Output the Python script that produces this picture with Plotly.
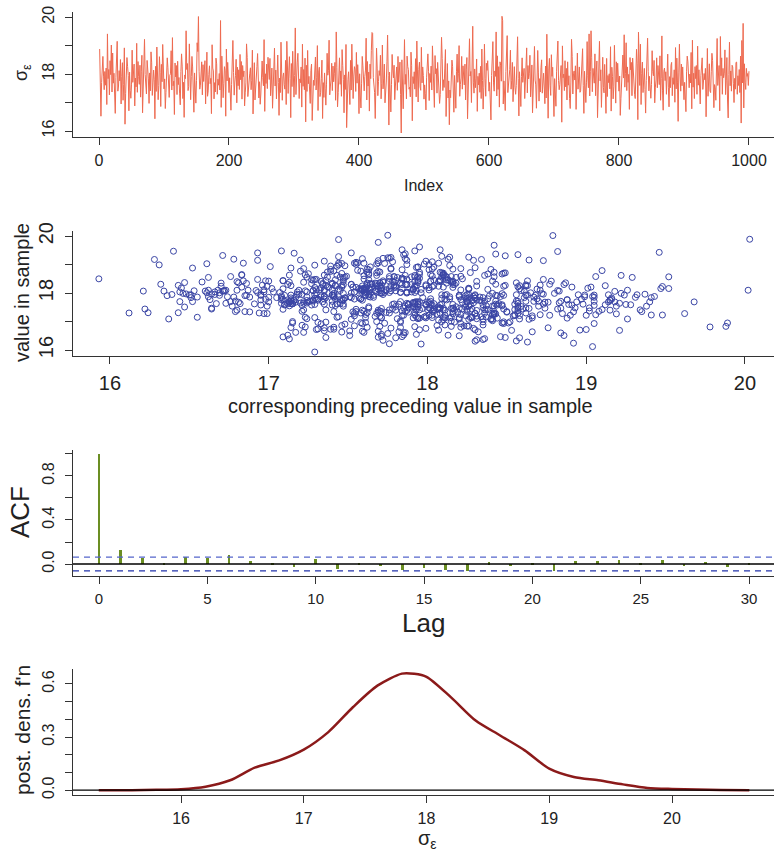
import plotly.graph_objects as go

# ---------------- data ----------------
sigma_trace = [
18.88,17.12,16.52,17.70,18.36,18.62,17.93,17.45,18.09,17.61,18.21,16.93,19.41,17.84,18.16,17.27,18.47,17.98,19.02,17.37,
18.74,17.68,18.03,17.22,16.62,17.87,18.29,19.15,17.40,17.58,18.12,17.76,18.51,16.95,17.92,18.40,17.08,17.64,18.92,16.24,
17.31,17.79,18.58,18.26,17.95,16.71,18.07,17.43,17.15,17.62,18.84,17.71,18.18,18.35,16.88,17.86,17.55,19.08,17.36,18.44,
17.91,17.64,18.31,17.19,18.10,18.66,16.64,17.47,17.76,19.22,17.99,17.58,17.30,18.48,18.24,17.83,16.97,18.04,17.41,18.78,
18.42,17.25,17.69,18.14,17.80,16.43,18.27,17.39,18.95,17.94,17.10,17.60,18.61,18.06,16.86,18.34,17.73,19.04,17.88,17.48,
17.83,16.79,17.35,18.12,18.57,18.22,17.67,17.18,17.96,18.01,18.82,17.44,19.28,17.59,17.75,16.58,18.39,17.90,18.30,17.28,
18.45,17.63,17.88,17.33,16.92,18.09,18.71,18.28,17.14,17.71,16.48,17.97,17.84,19.52,18.16,18.37,17.42,17.56,19.06,17.24,
17.10,17.92,18.62,18.25,17.69,16.66,18.04,17.36,16.98,17.78,19.10,18.79,20.02,18.10,17.47,17.61,18.14,18.43,17.27,18.33,
17.74,18.08,18.47,16.95,17.58,18.77,17.22,17.41,17.99,18.29,17.66,17.85,16.61,19.03,18.21,18.11,17.13,17.70,17.37,18.56,
18.36,17.29,17.82,17.61,18.02,17.44,19.88,16.83,18.63,17.93,17.17,17.68,18.26,18.13,16.52,18.88,17.76,18.41,17.55,17.35,
17.87,17.39,16.73,17.64,18.34,19.18,18.06,17.26,17.72,17.95,18.52,16.99,18.24,17.59,18.15,17.46,18.69,17.80,18.44,17.12,
18.30,17.91,18.11,16.88,17.34,17.69,19.06,18.58,17.21,17.57,17.83,18.03,18.22,17.45,17.77,18.84,16.60,18.07,18.40,17.09,
17.43,17.62,18.27,18.72,17.98,17.16,17.73,16.94,17.30,18.12,18.46,17.88,17.59,19.21,16.69,18.01,17.67,18.35,17.49,18.59,
18.09,17.81,18.55,17.24,17.65,18.21,16.80,17.40,17.94,18.91,17.58,18.14,17.13,18.38,18.67,17.71,16.55,17.86,17.35,19.12,
18.26,17.08,17.90,18.04,17.63,17.47,18.48,16.93,19.15,17.74,17.32,18.11,18.61,17.84,16.47,18.37,17.56,18.80,17.99,17.19,
17.95,19.62,17.28,18.08,18.42,18.73,17.61,17.14,17.83,17.70,18.25,16.84,19.05,17.57,18.16,17.45,18.56,16.32,18.31,17.39,
18.83,17.66,17.92,17.31,16.97,18.12,18.35,16.37,17.09,17.78,17.60,18.03,18.60,17.44,17.87,19.00,16.72,18.07,18.24,17.21,
17.36,17.84,18.49,16.44,17.70,17.18,18.04,17.48,16.91,17.62,18.73,17.96,18.13,19.19,17.27,17.58,17.79,18.38,17.42,18.28,
17.73,18.02,18.41,17.08,19.48,18.23,16.85,17.35,17.90,18.57,17.64,18.11,17.22,18.86,18.30,17.82,16.64,17.97,17.46,19.04,
16.12,17.30,17.80,18.08,17.59,16.93,18.48,17.44,19.05,17.71,17.14,17.93,18.26,18.17,17.39,18.76,17.68,18.33,17.86,16.61,
18.01,17.23,16.81,17.68,18.62,18.29,17.76,17.41,17.91,18.14,19.26,17.09,18.44,17.58,18.07,16.70,18.35,17.84,18.82,19.46,
19.43,17.88,17.60,17.36,16.44,18.04,18.91,18.21,17.24,17.74,18.12,17.95,18.66,17.13,17.68,19.02,17.48,17.83,18.35,16.99,
17.28,17.72,18.43,19.37,17.96,16.21,18.07,17.51,16.67,17.63,18.69,18.14,17.87,18.31,17.10,17.58,17.80,18.25,17.43,18.62,
17.71,18.08,18.42,17.29,15.93,18.50,17.35,16.78,17.86,19.21,17.64,17.99,17.13,18.63,18.26,18.16,17.47,17.54,17.20,18.77,
18.31,16.36,17.91,17.67,18.08,17.47,18.54,17.20,19.16,17.83,17.02,18.16,18.42,17.55,17.43,18.94,17.69,18.25,17.95,17.12,
17.62,17.31,16.74,17.87,18.49,18.71,18.10,17.07,18.02,17.71,18.28,17.44,18.99,17.93,17.70,16.83,18.65,18.01,18.19,17.33,
18.41,17.99,17.61,16.97,17.28,18.09,19.29,18.55,17.42,17.80,17.53,18.21,18.86,16.51,17.94,18.37,17.16,17.76,16.22,17.44,
17.17,17.85,18.49,18.27,17.59,16.66,17.95,17.41,16.80,18.10,18.70,17.71,18.01,19.00,17.22,17.64,17.86,18.62,17.47,18.29,
17.88,17.62,18.35,17.09,18.15,18.58,16.43,17.31,17.75,19.24,17.93,18.09,17.00,18.42,19.68,17.69,17.33,18.18,17.52,17.84,
18.53,16.69,17.92,17.62,18.03,17.36,18.27,17.14,18.88,17.77,16.77,17.54,19.05,17.85,17.22,18.38,18.13,18.47,17.59,17.40,
17.71,17.13,16.39,17.95,18.73,19.14,17.69,17.40,18.11,17.92,19.48,17.23,18.64,17.46,18.26,16.84,18.43,18.31,17.75,20.03,
19.89,16.95,17.76,17.30,16.72,18.09,18.57,19.35,17.35,17.61,17.91,18.16,18.84,17.47,17.78,18.41,17.03,18.04,18.26,17.54,
17.29,17.60,18.49,19.31,17.85,16.53,18.08,17.46,16.86,17.92,18.57,17.71,18.16,18.20,17.14,17.63,17.94,18.92,17.34,18.30,
17.83,18.02,18.66,17.20,17.65,18.32,16.64,17.44,18.14,18.97,17.79,17.62,16.80,18.40,18.83,18.07,17.05,17.84,17.37,18.22,
18.50,17.33,17.87,18.03,17.58,16.96,18.28,17.16,19.40,17.69,16.45,18.18,18.55,17.61,17.25,18.68,17.92,18.24,17.51,16.51,
17.84,17.21,16.87,18.10,18.64,19.16,17.78,17.45,17.63,18.17,18.30,16.31,18.99,17.87,18.00,17.42,18.47,17.55,18.20,17.09,
18.43,17.61,17.94,17.14,16.79,17.72,19.22,18.62,17.30,18.01,18.11,17.79,18.29,16.76,17.70,18.74,17.47,17.99,18.25,17.36,
17.41,17.86,18.30,18.89,17.60,16.62,18.10,17.15,17.00,17.69,19.14,17.94,17.52,19.41,17.23,18.08,19.52,18.57,17.38,18.20,
17.92,17.68,18.71,17.24,18.04,18.46,16.47,17.51,17.87,19.15,17.76,18.15,16.83,18.21,18.59,17.53,17.34,18.34,17.17,16.62,
18.55,17.21,17.95,17.70,18.01,17.48,18.96,16.70,18.24,17.91,17.13,17.55,19.01,18.17,16.98,18.43,17.72,18.38,17.80,17.40,
17.93,16.55,17.15,17.63,18.47,18.67,17.86,19.38,17.54,18.03,19.10,17.42,18.25,17.71,17.99,16.76,18.58,18.15,18.41,17.24,
18.56,17.94,17.68,17.29,17.14,17.77,18.87,18.36,16.40,19.47,18.16,17.60,19.05,16.93,18.02,18.42,17.35,17.79,18.20,17.46,
16.63,17.77,18.26,19.26,18.10,17.41,17.92,17.23,17.15,17.63,18.82,18.09,17.94,18.48,16.99,17.54,17.79,18.57,17.52,18.30,
17.94,17.63,18.64,17.08,17.85,19.34,17.41,16.73,18.10,18.21,17.77,18.08,17.29,18.48,18.70,17.54,16.85,17.91,17.52,18.31,
18.41,17.24,17.87,17.64,18.15,17.01,18.93,17.48,18.56,17.72,16.34,18.07,19.05,17.93,17.40,18.35,17.59,18.25,17.81,17.10,
17.71,17.35,16.68,18.10,18.63,18.43,17.92,17.52,18.00,17.69,18.76,16.78,19.19,17.54,18.03,17.14,18.26,17.84,18.30,17.29,
18.98,17.61,18.15,17.15,16.95,17.94,18.42,18.57,17.46,17.76,18.02,17.80,18.20,16.50,17.93,18.90,17.22,17.70,18.36,17.41,
17.35,18.08,18.73,18.48,17.92,16.82,17.63,17.52,17.08,17.77,19.25,17.60,18.16,18.30,16.71,19.32,17.94,18.57,17.29,18.20,
17.87,18.03,18.85,17.28,17.76,18.58,17.09,16.46,17.99,19.12,17.59,18.11,17.40,18.31,18.25,17.68,17.00,17.85,17.47,18.41,
18.42,17.29,17.94,17.60,18.16,17.35,18.63,16.28,19.18,17.69,19.78,16.81,18.36,17.71,17.46,18.20,17.92,18.02,17.60,18.10,
]
index = list(range(1, len(sigma_trace) + 1))

# lag plot: preceding value vs value
prev_vals = sigma_trace[:-1]
next_vals = sigma_trace[1:]

acf_lags = list(range(0, 31))
acf_vals = [1.0, 0.127, 0.057, 0.005, 0.060, 0.058, 0.080, 0.030, 0.010, -0.030,
            0.050, -0.048, 0.010, -0.015, -0.050, -0.035, -0.050, -0.066, 0.015, -0.020,
            0.005, -0.065, 0.027, 0.030, 0.035, 0.008, 0.035, -0.015, 0.020, -0.030, 0.010]
n_samples = 1000
conf_bound = 2 / n_samples ** 0.5

dens_x = [15.33, 15.6, 15.8, 16.0, 16.2, 16.4, 16.6, 16.8, 17.0, 17.2, 17.4, 17.6, 17.8, 17.9,
          18.0, 18.2, 18.4, 18.6, 18.8, 19.0, 19.2, 19.4, 19.6, 19.8, 20.0, 20.2, 20.4, 20.63]
dens_y = [0.0, 0.0005, 0.002, 0.006, 0.02, 0.056, 0.127, 0.168, 0.229, 0.328, 0.468, 0.59, 0.658, 0.657,
          0.64, 0.524, 0.393, 0.309, 0.225, 0.122, 0.075, 0.056, 0.033, 0.013, 0.007, 0.004, 0.001, 0.0]

# tick positions
trace_xticks = [0, 200, 400, 600, 800, 1000]
sigma_ticks = [16, 18, 20]
sigma_minor = [17, 19]
val_ticks = [16, 17, 18, 19, 20]
lag_ticks = [0, 5, 10, 15, 20, 25, 30]
acf_ticks = [0.0, 0.4, 0.8]
acf_minor = [0.2, 0.6, 1.0]
dens_ticks = [0.0, 0.3, 0.6]
dens_minor = [0.1, 0.2, 0.4, 0.5]

# ---------------- styling ----------------
FONT = "Liberation Sans, Arial, Helvetica, sans-serif"
AX = "#333333"
TXT = "#222222"

fig = go.Figure()

fig.add_trace(go.Scatter(x=index, y=sigma_trace, mode="lines",
                         line=dict(color="#EE6A50", width=1), xaxis="x", yaxis="y",
                         showlegend=False, hoverinfo="skip"))
fig.add_trace(go.Scatter(x=prev_vals, y=next_vals, mode="markers",
                         marker=dict(symbol="circle-open", size=6, color="#3A45A5",
                                     line=dict(width=1, color="#3A45A5")),
                         xaxis="x2", yaxis="y2", showlegend=False, hoverinfo="skip"))
fig.add_trace(go.Bar(x=acf_lags, y=acf_vals, width=0.13, marker=dict(color="#6B8E23", line=dict(width=0)),
                     xaxis="x3", yaxis="y3", showlegend=False, hoverinfo="skip"))
fig.add_trace(go.Scatter(x=dens_x, y=dens_y, mode="lines",
                         line=dict(color="#8B1A1A", width=2.5, shape="spline", smoothing=0.8),
                         xaxis="x4", yaxis="y4", showlegend=False, hoverinfo="skip"))

def xax(rng, ticks, size, anchor):
    return dict(range=rng, tickvals=ticks, ticktext=[str(t) for t in ticks], showline=True, linecolor=AX,
                linewidth=1.3, ticks="outside", ticklen=7, tickcolor=AX, tickwidth=1,
                showgrid=False, zeroline=False, anchor=anchor, automargin=False,
                tickfont=dict(family=FONT, size=size, color=TXT), ticklabelstandoff=2)

def yax(rng, tickvals, fmt, minor, size, dom, anchor):
    return dict(range=rng, tickvals=tickvals, tickformat=fmt, showline=True, linecolor=AX,
                linewidth=1.3, ticks="outside", ticklen=7, tickcolor=AX, tickwidth=1,
                minor=dict(tickvals=minor, ticks="outside", ticklen=7, tickcolor=AX, tickwidth=1, showgrid=False),
                showgrid=False, zeroline=False, domain=dom, anchor=anchor, tickangle=-90,
                automargin=False,
                tickfont=dict(family=FONT, size=size, color=TXT), ticklabelstandoff=4)

H = 850.0
def dom(top, bottom):
    return [1 - bottom / H, 1 - top / H]

fig.update_layout(
    width=774, height=850, margin=dict(l=73, r=0, t=0, b=0, pad=0, autoexpand=False),
    paper_bgcolor="white", plot_bgcolor="white", bargap=0,
    xaxis=xax([-40, 1038.5], trace_xticks, 16, "y"),
    yaxis=yax([15.79, 20.18], sigma_ticks, "d", sigma_minor, 16, dom(12, 137), "x"),
    xaxis2=xax([15.767, 20.183], val_ticks, 20, "y2"),
    yaxis2=yax([15.79, 20.18], sigma_ticks, "d", sigma_minor, 20, dom(231, 356), "x2"),
    xaxis3=xax([-1.2, 31.15], lag_ticks, 15, "y3"),
    yaxis3=yax([-0.109, 1.036], acf_ticks, ".1f", acf_minor, 16, dom(450, 576), "x3"),
    xaxis4=xax([15.12, 20.831], val_ticks, 16, "y4"),
    yaxis4=yax([-0.027, 0.684], dens_ticks, ".1f", dens_minor, 16, dom(669, 795), "x4"),
)

shapes = [
    dict(type="line", xref="x3 domain", yref="y3", x0=0, x1=1, y0=0, y1=0, line=dict(color="black", width=1.3)),
    dict(type="line", xref="x3 domain", yref="y3", x0=0, x1=1, y0=conf_bound, y1=conf_bound,
         line=dict(color="#5566CC", width=1.3, dash="6px,5px")),
    dict(type="line", xref="x3 domain", yref="y3", x0=0, x1=1, y0=-conf_bound, y1=-conf_bound,
         line=dict(color="#2233AA", width=1.3, dash="6px,5px")),
    dict(type="line", xref="x4 domain", yref="y4", x0=0, x1=1, y0=0, y1=0, line=dict(color="black", width=1.3)),
]
fig.update_layout(shapes=shapes)

# paper coordinates are relative to the plot area (left margin 73 px)
def annp(text, px, py, size, angle=0):
    return dict(text=text, x=(px - 73) / (774 - 73), y=1 - py / H, xref="paper", yref="paper",
                showarrow=False, textangle=angle, font=dict(family=FONT, size=size, color=TXT),
                xanchor="center", yanchor="middle")

fig.update_layout(annotations=[
    annp("σ<sub>ε</sub>", 22, 73, 18, -90),
    annp("Index", 424, 186, 16),
    annp("value in sample", 22, 293, 20, -90),
    annp("corresponding preceding value in sample", 410, 406, 20),
    annp("ACF", 20, 512, 26, -90),
    annp("Lag", 424, 623, 26),
    annp("post. dens. f'n", 22, 730, 21, -90),
    annp("σ<sub>ε</sub>", 427, 839, 20),
])

fig.write_html("out.html")
